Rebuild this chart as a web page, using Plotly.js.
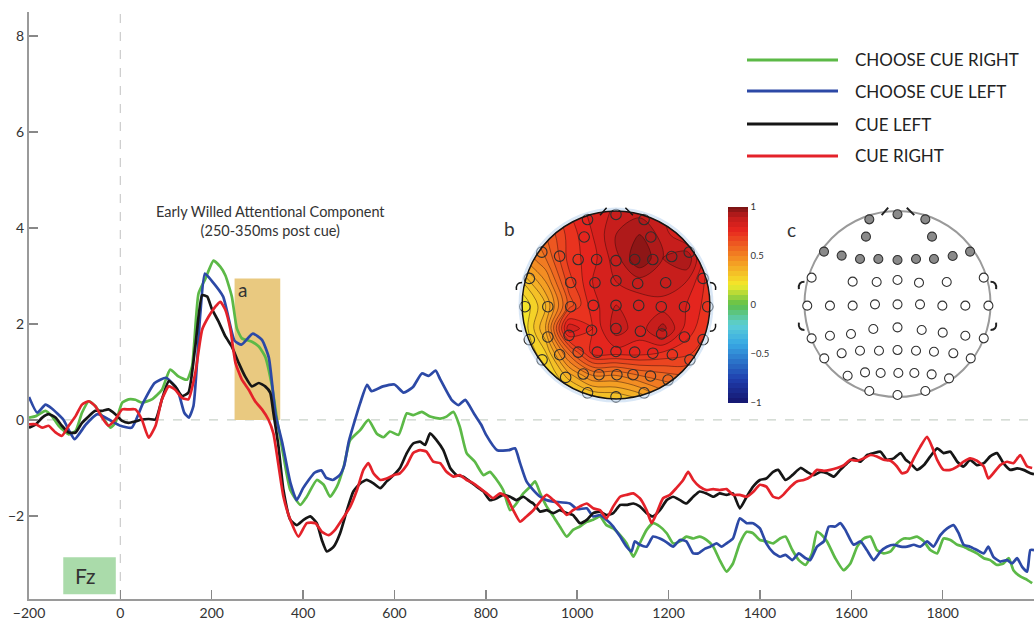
<!DOCTYPE html>
<html><head><meta charset="utf-8">
<script src="https://cdn.plot.ly/plotly-3.0.1.min.js"></script>
<style>html,body{margin:0;padding:0;background:#fff}#chart{width:1034px;height:620px}</style>
</head><body><div id="chart"></div>
<script>
// ---------- ERP waveforms (time in ms, amplitude in µV) ----------
const seriesNames = ['CHOOSE CUE RIGHT', 'CHOOSE CUE LEFT', 'CUE LEFT', 'CUE RIGHT'];
const seriesColors = ['#5cb947', '#2c49a6', '#161616', '#e4222a'];

const greenT = [-200,-185,-164,-150,-135,-113,-98,-84,-69,-55,-40,-22,-11,4,18,33,47,69,91,109,127,146,157,171,186,204,219,230,244,255,266,288,303,317,332,343,358,372,394,408,430,445,459,474,489,503,525,543,561,576,590,609,627,641,660,678,700,714,729,743,758,776,795,809,824,838,853,867,882,897,908,919,933,948,962,977,991,1006,1021,1035,1050,1064,1079,1094,1108,1123,1137,1152,1166,1181,1196,1210,1225,1239,1254,1268,1283,1298,1312,1327,1341,1356,1371,1385,1400,1414,1429,1444,1456,1471,1485,1500,1514,1525,1536,1547,1565,1583,1598,1613,1627,1642,1656,1671,1686,1700,1715,1729,1744,1759,1773,1788,1802,1817,1832,1846,1860,1875,1890,1904,1919,1933,1945,1955,1970,1985,1996];
const greenV = [0.05,0.08,0.19,0.08,-0.12,-0.3,-0.23,0.15,0.39,0.29,0.08,-0.16,-0.06,0.36,0.43,0.42,0.36,0.43,0.63,1.05,0.91,0.84,1.12,2.63,2.94,3.32,3.19,3.01,2.57,1.91,1.7,1.63,1.53,1.32,0.7,0.01,-0.8,-1.46,-1.77,-1.6,-1.25,-1.35,-1.6,-1.39,-0.97,-0.42,-0.21,0.0,-0.28,-0.36,-0.24,-0.31,0.14,0.1,0.17,0.07,0.03,0.07,0.17,-0.14,-0.69,-0.87,-1.15,-1.08,-1.25,-1.46,-1.88,-1.74,-1.53,-1.39,-1.28,-1.53,-1.8,-2.01,-2.22,-2.43,-2.29,-2.22,-2.12,-2.08,-2.01,-2.19,-2.26,-2.4,-2.57,-2.85,-2.57,-2.29,-2.15,-2.22,-2.36,-2.57,-2.53,-2.43,-2.47,-2.43,-2.5,-2.64,-2.92,-3.16,-2.99,-2.57,-2.33,-2.36,-2.5,-2.53,-2.57,-2.47,-2.43,-2.71,-2.92,-3.02,-2.78,-2.33,-2.4,-2.53,-2.88,-3.13,-2.99,-2.64,-2.47,-2.43,-2.71,-2.78,-2.74,-2.57,-2.47,-2.47,-2.43,-2.53,-2.71,-2.78,-2.47,-2.5,-2.6,-2.64,-2.71,-2.78,-2.88,-2.92,-3.02,-2.99,-2.88,-3.13,-3.26,-3.33,-3.4];

const blueT = [-200,-182,-164,-150,-125,-110,-100,-75,-50,-25,0,25,50,75,100,125,140,150,160,175,185,200,225,250,265,290,310,325,340,355,372,386,400,425,440,450,465,480,490,500,525,540,550,575,600,620,640,660,675,690,700,725,740,755,775,790,800,825,850,864,875,889,904,919,933,948,984,1000,1021,1035,1050,1064,1079,1094,1108,1119,1126,1137,1152,1166,1181,1196,1210,1225,1239,1254,1265,1280,1291,1305,1316,1327,1341,1356,1371,1385,1400,1414,1429,1444,1456,1471,1485,1500,1510,1525,1540,1551,1565,1576,1587,1605,1620,1634,1649,1664,1678,1693,1708,1722,1737,1751,1766,1780,1795,1810,1824,1835,1846,1860,1875,1890,1900,1911,1926,1941,1952,1963,1974,1985,1992,2000];
const blueV = [0.48,0.15,0.32,0.24,0.01,-0.26,-0.4,-0.09,0.12,0.01,-0.12,-0.16,0.36,0.77,0.88,0.63,0.15,0.05,0.29,2.22,3.05,2.9,2.57,1.65,1.57,1.8,1.67,1.3,0.1,-0.5,-1.3,-1.67,-1.42,-1.1,-1.05,-1.2,-1.25,-1.15,-0.95,-0.45,0.35,0.73,0.6,0.7,0.74,0.57,0.68,0.97,0.92,1.03,0.85,0.42,0.31,0.42,0.12,-0.1,-0.3,-0.63,-0.63,-0.59,-0.9,-1.28,-1.46,-1.6,-1.67,-1.7,-1.74,-1.86,-1.84,-2.01,-1.98,-2.08,-2.22,-2.43,-2.64,-2.74,-2.53,-2.6,-2.64,-2.43,-2.47,-2.55,-2.64,-2.5,-2.53,-2.78,-2.78,-2.68,-2.64,-2.57,-2.64,-2.57,-2.47,-2.05,-2.15,-2.15,-2.26,-2.57,-2.76,-2.85,-2.81,-2.92,-2.78,-2.88,-2.92,-2.64,-2.53,-2.22,-2.22,-2.15,-2.29,-2.6,-2.53,-2.71,-2.92,-2.74,-2.64,-2.6,-2.64,-2.64,-2.6,-2.64,-2.53,-2.64,-2.4,-2.26,-2.19,-2.36,-2.6,-2.64,-2.71,-2.78,-2.64,-2.85,-2.95,-2.92,-2.99,-2.88,-3.06,-3.16,-2.71,-2.71];

const blackT = [-200,-185,-171,-157,-142,-128,-113,-98,-84,-69,-55,-40,-26,-11,4,18,33,47,62,77,91,106,120,135,149,164,179,190,200,215,230,244,259,273,288,303,317,328,335,346,357,372,386,401,416,430,441,452,467,481,496,510,525,539,554,569,583,598,612,627,641,656,667,678,692,707,722,736,751,765,780,795,809,824,838,853,867,882,897,904,919,933,948,962,977,991,1006,1021,1035,1050,1064,1079,1094,1108,1123,1137,1152,1166,1181,1196,1210,1225,1239,1254,1268,1283,1298,1312,1327,1341,1356,1371,1385,1400,1414,1429,1440,1456,1471,1489,1503,1518,1533,1547,1562,1576,1591,1605,1620,1635,1649,1664,1678,1693,1708,1719,1729,1744,1759,1773,1788,1802,1817,1832,1846,1860,1875,1890,1904,1919,1933,1948,1963,1977,1992,2000];
const blackV = [-0.16,-0.09,0.05,0.12,0.05,-0.12,-0.26,-0.26,-0.06,0.08,0.19,0.19,0.22,0.12,-0.02,-0.06,-0.03,0.01,0.02,0.01,0.43,0.81,0.7,0.5,0.57,1.53,2.6,2.57,2.32,2.05,1.74,1.53,1.19,0.91,0.7,0.77,0.7,0.57,0.15,-0.54,-1.46,-2.08,-2.19,-2.08,-2.01,-2.15,-2.5,-2.74,-2.64,-2.36,-1.88,-1.49,-1.32,-1.25,-1.32,-1.42,-1.28,-1.15,-1.0,-0.69,-0.49,-0.45,-0.52,-0.28,-0.42,-0.63,-1.0,-1.15,-1.18,-1.28,-1.39,-1.49,-1.67,-1.63,-1.56,-1.6,-1.67,-1.6,-1.7,-1.74,-1.91,-1.88,-1.94,-1.88,-1.94,-1.98,-2.15,-2.08,-1.94,-1.91,-1.98,-1.94,-1.77,-1.77,-1.74,-1.8,-1.94,-2.01,-1.88,-1.67,-1.6,-1.67,-1.74,-1.6,-1.49,-1.53,-1.6,-1.53,-1.56,-1.53,-1.84,-1.6,-1.39,-1.25,-1.22,-1.08,-1.04,-1.25,-1.15,-1.0,-1.08,-1.15,-1.08,-1.11,-1.18,-1.04,-0.9,-0.8,-0.87,-0.73,-0.69,-0.66,-0.83,-0.8,-0.69,-0.83,-0.9,-1.04,-0.94,-0.76,-0.59,-0.69,-0.66,-0.87,-0.97,-0.83,-0.94,-0.9,-0.76,-0.69,-0.9,-1.04,-1.01,-1.04,-1.11,-1.13];

const redT = [-200,-185,-171,-157,-142,-128,-113,-98,-84,-69,-55,-40,-26,-11,4,18,33,47,62,77,91,106,120,135,149,164,179,193,208,219,230,241,252,266,281,295,310,324,335,357,372,390,408,427,441,456,470,485,503,518,532,543,554,569,583,598,612,627,641,656,670,685,700,714,729,743,758,773,787,802,816,831,845,860,875,889,904,919,933,948,962,977,991,1006,1021,1035,1050,1064,1079,1094,1108,1123,1137,1152,1163,1174,1188,1203,1217,1232,1243,1254,1268,1283,1298,1312,1327,1341,1356,1371,1385,1400,1414,1429,1441,1452,1467,1481,1496,1511,1525,1540,1554,1569,1584,1598,1613,1627,1642,1656,1671,1686,1700,1711,1722,1737,1751,1766,1777,1788,1802,1817,1832,1846,1860,1875,1890,1900,1911,1926,1941,1955,1970,1985,1996];
const redV = [-0.09,-0.09,-0.16,-0.12,-0.26,-0.33,-0.12,0.08,0.32,0.39,0.29,0.05,-0.12,0.01,0.22,0.22,0.22,0.01,-0.37,-0.12,0.43,0.7,0.63,0.46,0.43,0.98,1.88,2.15,2.36,2.46,2.29,1.88,1.19,0.84,0.63,0.39,0.22,0.01,-0.28,-1.6,-2.08,-2.43,-2.15,-2.15,-2.33,-2.4,-2.29,-2.08,-1.81,-1.46,-1.04,-0.9,-1.11,-1.25,-1.22,-1.15,-1.11,-0.94,-0.69,-0.63,-0.66,-0.87,-0.9,-1.08,-1.18,-1.15,-1.25,-1.32,-1.42,-1.53,-1.63,-1.53,-1.6,-1.88,-2.12,-2.01,-1.88,-1.7,-1.56,-1.67,-1.8,-1.98,-1.88,-1.8,-1.74,-1.84,-1.88,-2.05,-1.8,-1.6,-1.56,-1.53,-1.63,-1.88,-2.15,-1.94,-1.63,-1.56,-1.42,-1.25,-1.08,-1.25,-1.39,-1.46,-1.44,-1.46,-1.44,-1.56,-1.56,-1.6,-1.5,-1.35,-1.39,-1.6,-1.63,-1.55,-1.39,-1.28,-1.25,-1.18,-1.04,-1.06,-1.04,-1.0,-0.94,-0.83,-0.85,-0.8,-0.73,-0.76,-0.83,-0.85,-0.97,-1.11,-1.08,-0.8,-0.56,-0.35,-0.56,-0.83,-1.04,-1.04,-0.97,-0.87,-0.8,-0.85,-0.97,-1.22,-1.11,-0.94,-0.87,-0.9,-0.73,-0.97,-1.0];

// ---------- axis ticks ----------
const xTicks = [-200,0,200,400,600,800,1000,1200,1400,1600,1800];
const yTicks = [-2,0,2,4,6,8];

// ---------- topographic map (panel b) ----------
const topoAxis = [-1,-0.75,-0.5,-0.25,0,0.25,0.5,0.75,1];
const topoZ = [ // rows from bottom (y=-1) to top (y=1)
  [0.15,0.18,0.22,0.28,0.30,0.35,0.45,0.50,0.55],
  [0.15,0.22,0.38,0.50,0.50,0.55,0.58,0.60,0.60],
  [0.18,0.30,0.58,0.78,0.78,0.78,0.75,0.72,0.65],
  [0.20,0.40,0.84,0.75,0.88,0.82,0.92,0.78,0.70],
  [0.20,0.35,0.62,0.78,0.85,0.82,0.82,0.80,0.72],
  [0.30,0.45,0.68,0.80,0.85,0.88,0.90,0.85,0.72],
  [0.45,0.55,0.72,0.78,0.88,1.00,0.90,0.95,0.72],
  [0.50,0.60,0.72,0.80,0.90,0.95,0.88,0.78,0.70],
  [0.55,0.65,0.75,0.82,0.86,0.88,0.85,0.75,0.70]
];
const cbTicks = [-1,-0.5,0,0.5,1];
const cbLabels = ['\u22121','\u22120.5','0','0.5','1'];

// ---------- electrode montage (head radius = 1) ----------
const frontX = [-0.303,0.0,0.299,-0.339,0.371,-0.790,-0.600,-0.403,-0.206,0.0,0.199,0.392,0.593,0.780];
const frontY = [0.910,0.964,0.910,0.724,0.724,0.563,0.520,0.484,0.484,0.473,0.484,0.484,0.516,0.563];
const otherX = [-0.923,-0.482,-0.224,0.0,0.231,0.529,0.927,
  -0.970,-0.726,-0.482,-0.242,0.0,0.242,0.482,0.729,0.977,
  -0.923,-0.726,-0.5,-0.260,0.0,0.260,0.486,0.729,0.927,
  -0.787,-0.600,-0.403,-0.199,0.0,0.199,0.392,0.600,0.787,
  -0.536,-0.349,-0.181,0.009,0.181,0.367,0.554,
  -0.303,0.0,0.299];
const otherY = [0.283,0.240,0.237,0.258,0.229,0.237,0.283,
  -0.018,-0.018,-0.018,-0.004,-0.004,-0.004,-0.018,-0.018,-0.018,
  -0.369,-0.341,-0.323,-0.269,-0.251,-0.280,-0.308,-0.341,-0.369,
  -0.584,-0.530,-0.502,-0.502,-0.495,-0.502,-0.513,-0.530,-0.584,
  -0.771,-0.735,-0.742,-0.742,-0.742,-0.756,-0.799,
  -0.935,-0.978,-0.935];

// ---------- build ----------
const W = 1034, H = 620, ML = 29, MR = 0, MT = 12, MB = 21;
const PW = W - ML - MR, PH = H - MT - MB;
const px2x = p => (p - ML) / PW;           // pixel -> paper x
const py2y = p => (H - MB - p) / PH;       // pixel -> paper y

const seriesT = [greenT, blueT, blackT, redT];
const seriesV = [greenV, blueV, blackV, redV];

const traces = seriesNames.map((n, i) => ({
  type: 'scatter', mode: 'lines', name: n, x: seriesT[i], y: seriesV[i],
  line: {color: seriesColors[i], width: 2.7, shape: 'spline', smoothing: 0.5},
  xaxis: 'x', yaxis: 'y', showlegend: false, hoverinfo: 'skip'
}));

const jet = [[0,'#15156e'],[0.125,'#1f3fae'],[0.3,'#38a8e4'],[0.4,'#5ccfd6'],[0.5,'#5cbf4a'],
             [0.6,'#f4ec2a'],[0.72,'#f49a24'],[0.88,'#e8261e'],[0.95,'#c01c1c'],[1,'#7e1414']];

traces.push({
  type: 'contour', x: topoAxis, y: topoAxis, z: topoZ, xaxis: 'x2', yaxis: 'y2',
  zmin: -1, zmax: 1, colorscale: jet, autocontour: false,
  contours: {start: -1, end: 1, size: 0.05, coloring: 'fill', showlines: false},
  line: {width: 0, smoothing: 1}, hoverinfo: 'skip',
  colorbar: {x: px2x(728), xanchor: 'left', y: py2y(305), yanchor: 'middle',
    lenmode: 'pixels', len: 196, thickness: 20, xpad: 0, ypad: 0, outlinewidth: 0,
    tickvals: cbTicks, ticktext: cbLabels, ticks: '', tickfont: {size: 9.5, color: '#333', family: 'Lato, sans-serif'}}
});
traces.push({
  type: 'contour', x: topoAxis, y: topoAxis, z: topoZ, xaxis: 'x2', yaxis: 'y2',
  autocontour: false, contours: {start: 0.15, end: 1.0, size: 0.05, coloring: 'none'},
  line: {width: 0.6, color: 'rgba(40,10,10,0.75)', smoothing: 1}, showscale: false, hoverinfo: 'skip'
});

// white mask outside the head circle (decoration)
(function(){
  const R = 1.15, n = 180, mx = [R,R,-R,-R,R,R,1], my = [0,R,R,-R,-R,0,0];
  for (let i = 1; i <= n; i++) { const a = -2*Math.PI*i/n; mx.push(Math.cos(a)); my.push(Math.sin(a)); }
  traces.push({type:'scatter', mode:'lines', x: mx, y: my, fill:'toself', fillcolor:'#fff',
    line:{width:0, color:'#fff'}, xaxis:'x2', yaxis:'y2', hoverinfo:'skip', showlegend:false});
})();

traces.push({type:'scatter', mode:'markers', x: frontX.concat(otherX), y: frontY.concat(otherY),
  xaxis:'x2', yaxis:'y2', hoverinfo:'skip', showlegend:false,
  marker:{symbol:'circle-open', size:10.5, color:'#2e2e2e', line:{width:1.1}}});

traces.push({type:'scatter', mode:'markers', x: otherX, y: otherY, xaxis:'x3', yaxis:'y3',
  hoverinfo:'skip', showlegend:false,
  marker:{symbol:'circle', size:9, color:'#ffffff', line:{width:1.1, color:'#333'}}});
traces.push({type:'scatter', mode:'markers', x: frontX, y: frontY, xaxis:'x3', yaxis:'y3',
  hoverinfo:'skip', showlegend:false,
  marker:{symbol:'circle', size:9, color:'#8a8a8a', line:{width:1.1, color:'#333'}}});

const shapes = [
  {type:'rect', xref:'x', yref:'y', x0:250, x1:350, y0:0, y1:2.95, fillcolor:'rgb(233,201,128)', line:{width:0}, layer:'below'},
  {type:'rect', xref:'x', yref:'y', x0:-125, x1:-10, y0:-3.63, y1:-2.86, fillcolor:'rgb(170,219,170)', line:{width:0}, layer:'below'},
  {type:'line', xref:'x', yref:'paper', x0:0, x1:0, y0:0, y1:1, line:{color:'#cfcfcf', width:1.3, dash:'dash'}, layer:'below'},
  {type:'line', xref:'paper', yref:'y', x0:0, x1:1, y0:0, y1:0, line:{color:'#c9d2c9', width:1.3, dash:'dash'}, layer:'below'}
];
// head outlines, nose and ears
function headShapes(xr, yr, col, lw, layer) {
  const s = [];
  s.push({type:'circle', xref:xr, yref:yr, x0:-1, x1:1, y0:-1, y1:1, line:{color:col, width:lw}, layer:layer});
  s.push({type:'path', xref:xr, yref:yr, path:'M -0.17 0.955 L -0.1 1.035 M 0.1 1.035 L 0.18 0.955', line:{color:col, width:lw}, layer:layer});
  s.push({type:'path', xref:xr, yref:yr, path:'M -1.0 0.24 Q -1.07 0.24 -1.06 0.16 M -1.06 -0.2 Q -1.07 -0.28 -1.0 -0.28', line:{color:col, width:lw}, layer:layer});
  s.push({type:'path', xref:xr, yref:yr, path:'M 1.0 0.24 Q 1.07 0.24 1.06 0.16 M 1.06 -0.2 Q 1.07 -0.28 1.0 -0.28', line:{color:col, width:lw}, layer:layer});
  return s;
}
shapes.push({type:'circle', xref:'x2', yref:'y2', x0:-1.025, x1:1.025, y0:-1.025, y1:1.025, line:{color:'rgba(185,212,238,0.55)', width:2.5}, layer:'above'});
headShapes('x2','y2','#151515',1.5,'above').forEach(s => shapes.push(s));
headShapes('x3','y3','#9a9a9a',2,'below').forEach((s,i) => { if (i>0) s.line.color = '#222'; shapes.push(s); });

const legendY = [60, 91, 124, 156];
const annotations = [
  {xref:'x', yref:'y', x:328, y:4.15, text:'Early Willed Attentional Component<br>(250-350ms post cue)', showarrow:false,
   font:{family:'Lato, sans-serif', size:14.5, color:'#333'}, align:'center'},
  {xref:'x', yref:'y', x:254, y:2.72, text:'a', showarrow:false, xanchor:'left', font:{family:'Lato, sans-serif', size:19, color:'#333'}},
  {xref:'x', yref:'y', x:-77, y:-3.25, text:'Fz', showarrow:false, font:{family:'Lato, sans-serif', size:21, color:'#333'}},
  {xref:'paper', yref:'paper', x:px2x(509), y:py2y(229), text:'b', showarrow:false, font:{family:'Lato, sans-serif', size:19, color:'#333'}},
  {xref:'paper', yref:'paper', x:px2x(798), y:py2y(230), text:'c', showarrow:false, font:{family:'Lato, sans-serif', size:19, color:'#333'}}
];
seriesNames.forEach((n, i) => {
  shapes.push({type:'line', xref:'paper', yref:'paper', x0:px2x(747), x1:px2x(838), y0:py2y(legendY[i]), y1:py2y(legendY[i]),
    line:{color:seriesColors[i], width:3}});
  annotations.push({xref:'paper', yref:'paper', x:px2x(853), y:py2y(legendY[i]), xanchor:'left', yanchor:'middle',
    text:n, showarrow:false, font:{family:'Lato, sans-serif', size:17, color:'#222'}});
});

const hidden = {visible:false, range:[-1.15,1.15], fixedrange:true};
const layout = {
  width: W, height: H, margin:{l:ML, r:MR, t:MT, b:MB, pad:0},
  paper_bgcolor:'#fff', plot_bgcolor:'rgba(0,0,0,0)', showlegend:false,
  font:{family:'Lato, "Open Sans", sans-serif', color:'#333'},
  xaxis:{range:[-200,2000], tickvals:xTicks, ticks:'inside', ticklen:9, tickwidth:1.5, tickcolor:'#888',
    showline:true, linecolor:'#9a9a9a', linewidth:2, showgrid:false, zeroline:false,
    tickfont:{size:14, color:'#333'}, domain:[0,1], anchor:'y'},
  yaxis:{range:[-3.73,8.5], tickvals:yTicks, ticks:'inside', ticklen:9, tickwidth:1.5, tickcolor:'#888',
    showline:true, linecolor:'#9a9a9a', linewidth:2, showgrid:false, zeroline:false,
    tickfont:{size:14, color:'#333'}, domain:[0,1], anchor:'x'},
  xaxis2:Object.assign({domain:[px2x(616-108), px2x(616+108)], anchor:'y2'}, hidden),
  yaxis2:Object.assign({domain:[py2y(305+108), py2y(305-108)], anchor:'x2'}, hidden),
  xaxis3:Object.assign({domain:[px2x(897.5-107), px2x(897.5+107)], anchor:'y3'}, hidden),
  yaxis3:Object.assign({domain:[py2y(304+107), py2y(304-107)], anchor:'x3'}, hidden),
  shapes: shapes, annotations: annotations
};

Plotly.newPlot('chart', traces, layout, {displayModeBar:false, staticPlot:true});
</script></body></html>
